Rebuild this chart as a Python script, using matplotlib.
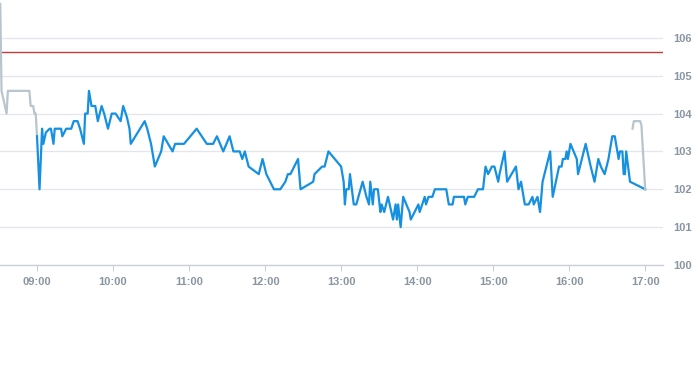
import matplotlib
matplotlib.use("Agg")
import matplotlib.pyplot as plt

# Pre-market (grey)
pre_times = ["08:31", "08:32", "08:36", "08:37", "08:54", "08:55", "08:57",
             "08:58", "08:59", "09:00"]
pre_prices = [106.9, 104.6, 104.0, 104.6, 104.6, 104.2, 104.2, 104.0, 104.0, 103.4]

# Regular session (blue)
day_times = [
    "09:00", "09:02", "09:04", "09:05", "09:07", "09:10", "09:11", "09:13", "09:14",
    "09:19", "09:20", "09:23", "09:27", "09:29", "09:32", "09:34", "09:37", "09:38",
    "09:40", "09:41", "09:43", "09:46", "09:48", "09:51", "09:53", "09:56", "09:59",
    "10:02", "10:06", "10:08", "10:11", "10:13", "10:14", "10:25", "10:27", "10:30",
    "10:33", "10:38", "10:40", "10:47", "10:49", "10:56", "11:06", "11:14", "11:19",
    "11:22", "11:27", "11:32", "11:35", "11:40", "11:42", "11:44", "11:47", "11:55",
    "11:58", "12:01", "12:04", "12:07", "12:12", "12:16", "12:18", "12:20", "12:26",
    "12:28", "12:38", "12:39", "12:45", "12:47", "12:50", "13:00", "13:02", "13:03",
    "13:04", "13:06", "13:07", "13:10", "13:12", "13:17", "13:20", "13:22", "13:23",
    "13:25", "13:26", "13:29", "13:31", "13:32", "13:34", "13:37", "13:41", "13:43",
    "13:44", "13:45", "13:47", "13:48", "13:49", "13:54", "13:55", "14:01", "14:02",
    "14:06", "14:07", "14:09", "14:12", "14:14", "14:23", "14:25", "14:28", "14:29",
    "14:34", "14:37", "14:38", "14:40", "14:45", "14:48", "14:52", "14:54", "14:56",
    "14:59", "15:01", "15:04", "15:05", "15:09", "15:11", "15:18", "15:20", "15:22",
    "15:25", "15:28", "15:31", "15:32", "15:35", "15:37", "15:39", "15:45", "15:47",
    "15:52", "15:54", "15:55", "15:57", "15:58", "15:59", "16:01", "16:06", "16:07",
    "16:13", "16:17", "16:20", "16:23", "16:25", "16:28", "16:31", "16:34", "16:36",
    "16:39", "16:40", "16:42", "16:43", "16:44", "16:45", "16:48", "17:00",
]
day_prices = [
    103.4, 102.0, 103.6, 103.2, 103.5, 103.6, 103.6, 103.2, 103.6,
    103.6, 103.4, 103.6, 103.6, 103.8, 103.8, 103.6, 103.2, 104.0,
    104.0, 104.6, 104.2, 104.2, 103.8, 104.2, 104.0, 103.6, 104.0,
    104.0, 103.8, 104.2, 103.9, 103.6, 103.2, 103.8, 103.6, 103.2,
    102.6, 103.0, 103.4, 103.0, 103.2, 103.2, 103.6, 103.2, 103.2,
    103.4, 103.0, 103.4, 103.0, 103.0, 102.8, 103.0, 102.6, 102.4,
    102.8, 102.4, 102.2, 102.0, 102.0, 102.2, 102.4, 102.4, 102.8,
    102.0, 102.2, 102.4, 102.6, 102.6, 103.0, 102.6, 102.2, 101.6,
    102.0, 102.0, 102.4, 101.6, 101.6, 102.2, 101.8, 101.6, 102.2,
    101.6, 102.0, 102.0, 101.4, 101.6, 101.4, 101.8, 101.2, 101.6,
    101.2, 101.6, 101.0, 101.4, 101.8, 101.4, 101.2, 101.6, 101.4,
    101.8, 101.6, 101.8, 101.8, 102.0, 102.0, 101.6, 101.6, 101.8,
    101.8, 101.8, 101.6, 101.8, 101.8, 102.0, 102.0, 102.6, 102.4,
    102.6, 102.6, 102.2, 102.4, 103.0, 102.2, 102.6, 102.0, 102.2,
    101.6, 101.6, 101.8, 101.6, 101.8, 101.4, 102.2, 103.0, 101.8,
    102.6, 102.6, 102.8, 102.8, 103.0, 102.8, 103.2, 102.8, 102.4,
    103.2, 102.6, 102.2, 102.8, 102.6, 102.4, 102.8, 103.4, 103.4,
    102.8, 103.0, 103.0, 102.4, 102.4, 103.0, 102.2, 102.0,
]

# After-hours (grey)
post_times = ["16:50", "16:51", "16:56", "16:57", "17:00"]
post_prices = [103.6, 103.8, 103.8, 103.7, 102.0]

ref_price = 105.62
hour_ticks = ["09:00", "10:00", "11:00", "12:00", "13:00", "14:00", "15:00", "16:00", "17:00"]
price_ticks = [100, 101, 102, 103, 104, 105, 106]


def to_min(t):
    h, m = t.split(":")
    return int(h) * 60 + int(m)


fig = plt.figure(figsize=(6.93, 3.65), dpi=100)
ax = fig.add_axes([0, 0.274, 0.957, 0.726])

grid_c = "#e3e7eb"
axis_c = "#c9d0d7"
text_c = "#8995a2"

ax.plot([to_min(t) for t in pre_times], pre_prices, color="#b9c5cd", lw=1.6, zorder=3)
ax.plot([to_min(t) for t in day_times], day_prices, color="#1690e0", lw=1.6, zorder=4)
ax.plot([to_min(t) for t in post_times], post_prices, color="#b9c5cd", lw=1.6, zorder=5)
ax.axhline(ref_price, color="#c43b3d", lw=1.0, zorder=2)

ax.set_xlim(510.8, 1034.2)
ax.set_ylim(100, 107)

ax.set_xticks([to_min(t) for t in hour_ticks])
ax.set_xticklabels(hour_ticks)
ax.set_yticks(price_ticks)
ax.set_yticklabels([str(p) for p in price_ticks])
ax.yaxis.tick_right()

ax.grid(axis="y", color=grid_c, lw=0.9, zorder=0)
for s in ["top", "left", "right"]:
    ax.spines[s].set_visible(False)
ax.spines["bottom"].set_color(axis_c)
ax.spines["bottom"].set_linewidth(1.0)

ax.tick_params(axis="x", length=4, color=axis_c, pad=5, labelsize=8, labelcolor=text_c)
ax.tick_params(axis="y", length=0, pad=7, labelsize=8, labelcolor=text_c)
for lbl in ax.get_xticklabels() + ax.get_yticklabels():
    lbl.set_fontfamily("Liberation Sans")
    lbl.set_fontweight("bold")

fig.savefig("out.png", dpi=100)
